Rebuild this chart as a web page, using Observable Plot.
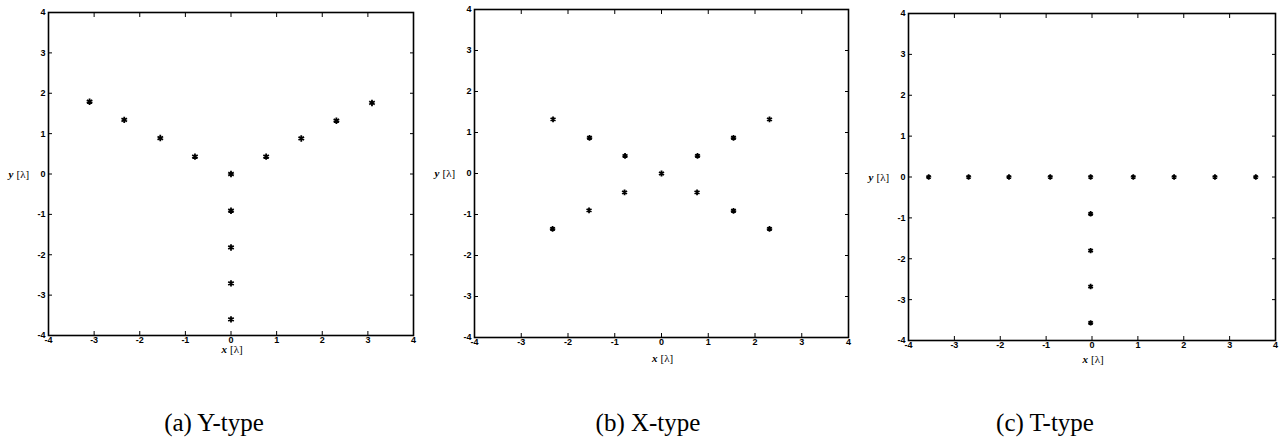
<!DOCTYPE html>
<html>
<head>
<meta charset="utf-8">
<script src="https://cdn.jsdelivr.net/npm/d3@7"></script>
<script src="https://cdn.jsdelivr.net/npm/@observablehq/plot@0.6"></script>
<style>
  html, body { margin: 0; padding: 0; background: #fff; }
  #wrap { position: relative; width: 1281px; height: 445px; overflow: hidden; background: #fff; }
  .panel { position: absolute; top: 0; }
  .cap { position: absolute; font-family: "Liberation Serif", "DejaVu Serif", serif; font-size: 25px; color: #000; white-space: nowrap; transform: translateX(-50%); top: 409px; }
</style>
</head>
<body>
<div id="wrap"></div>
<script>
// ---- data ----
const tickValues = [-4, -3, -2, -1, 0, 1, 2, 3, 4];
const innerTicks = [-3, -2, -1, 0, 1, 2, 3];
const captions = ["(a) Y-type", "(b) X-type", "(c) T-type"];

// (a) Y-type array element positions [λ]
const yTypeX = [-3.10, -2.34, -1.55, -0.79, 0, 0.77, 1.54, 2.31, 3.09, 0, 0, 0, 0];
const yTypeY = [1.79, 1.34, 0.89, 0.43, 0, 0.43, 0.88, 1.32, 1.76, -0.91, -1.82, -2.71, -3.60];

// (b) X-type
const xTypeX = [-2.32, -1.54, -0.78, 0, 0.77, 1.54, 2.31, -0.79, -1.55, -2.33, 0.76, 1.54, 2.31];
const xTypeY = [1.32, 0.87, 0.43, 0, 0.43, 0.87, 1.32, -0.46, -0.90, -1.35, -0.46, -0.91, -1.35];

// (c) T-type
const tTypeX = [-3.56, -2.69, -1.81, -0.91, -0.03, 0.90, 1.79, 2.68, 3.57, -0.03, -0.03, -0.03, -0.03];
const tTypeY = [0, 0, 0, 0, 0, 0, 0, 0, 0, -0.90, -1.80, -2.68, -3.57];

// ---- layout (positions / styles) ----
const layouts = [
  {left: 0,   width: 430, mL: 48, mR: 17, mT: 12, mB: 45, xLabDy: 17, r: 3.0, capX: 214},
  {left: 430, width: 430, mL: 44, mR: 12, mT: 9,  mB: 43, xLabDy: 24, r: 2.7, capX: 648},
  {left: 860, width: 421, mL: 48, mR: 6,  mT: 13, mB: 40, xLabDy: 22, r: 2.5, capX: 1045}
];
const H = 380;
const serif = "Liberation Serif, DejaVu Serif, serif";

function makePanel(L, xs, ys) {
  const pts = xs.map((x, i) => ({x, y: ys[i]}));
  const tickText = {fontWeight: "bold", fontSize: 9, fontFamily: "Liberation Sans, Arial, sans-serif", fill: "#000"};
  return Plot.plot({
    width: L.width, height: H,
    marginLeft: L.mL, marginRight: L.mR, marginTop: L.mT, marginBottom: L.mB,
    x: {domain: [-4, 4]},
    y: {domain: [-4, 4]},
    style: {background: "white", color: "#000", overflow: "visible"},
    marks: [
      // tick labels (outside)
      Plot.axisX(tickValues, {anchor: "bottom", tickSize: 0, tickPadding: 1, tickFormat: d => String(d), label: null, ...tickText}),
      Plot.axisY(tickValues, {anchor: "left", tickSize: 0, tickPadding: 3, tickFormat: d => String(d), label: null, ...tickText}),
      // inward tick marks on all four sides
      Plot.axisX(innerTicks, {anchor: "bottom", tickSize: 4, dy: -4, tickFormat: () => "", label: null, stroke: "#000"}),
      Plot.axisX(innerTicks, {anchor: "top", tickSize: 4, dy: 4, tickFormat: () => "", label: null, stroke: "#000"}),
      Plot.axisY(innerTicks, {anchor: "left", tickSize: 4, dx: 4, tickFormat: () => "", label: null, stroke: "#000"}),
      Plot.axisY(innerTicks, {anchor: "right", tickSize: 4, dx: -4, tickFormat: () => "", label: null, stroke: "#000"}),
      Plot.frame({stroke: "#000", strokeWidth: 1.6}),
      // axis labels
      Plot.text([0], {x: d => d, frameAnchor: "bottom", dy: L.xLabDy, dx: -4, text: () => "x", textAnchor: "end", fontStyle: "italic", fontWeight: "bold", fontSize: 11, fontFamily: serif, fill: "#000"}),
      Plot.text([0], {x: d => d, frameAnchor: "bottom", dy: L.xLabDy, dx: -1, text: () => "[λ]", textAnchor: "start", fontSize: 11, fontFamily: serif, fill: "#000"}),
      Plot.text([0], {y: d => d, frameAnchor: "left", dx: -35, text: () => "y", textAnchor: "end", fontStyle: "italic", fontWeight: "bold", fontSize: 11, fontFamily: serif, fill: "#000"}),
      Plot.text([0], {y: d => d, frameAnchor: "left", dx: -32, text: () => "[λ]", textAnchor: "start", fontSize: 11, fontFamily: serif, fill: "#000"}),
      // elements
      Plot.dot(pts, {x: "x", y: "y", symbol: "asterisk", r: L.r, stroke: "#000", strokeWidth: 1.8})
    ]
  });
}

const wrap = document.getElementById("wrap");
const sets = [[yTypeX, yTypeY], [xTypeX, xTypeY], [tTypeX, tTypeY]];
layouts.forEach((L, i) => {
  const div = document.createElement("div");
  div.className = "panel";
  div.style.left = L.left + "px";
  div.appendChild(makePanel(L, sets[i][0], sets[i][1]));
  wrap.appendChild(div);
  const cap = document.createElement("div");
  cap.className = "cap";
  cap.style.left = L.capX + "px";
  cap.textContent = captions[i];
  wrap.appendChild(cap);
});
</script>
</body>
</html>
